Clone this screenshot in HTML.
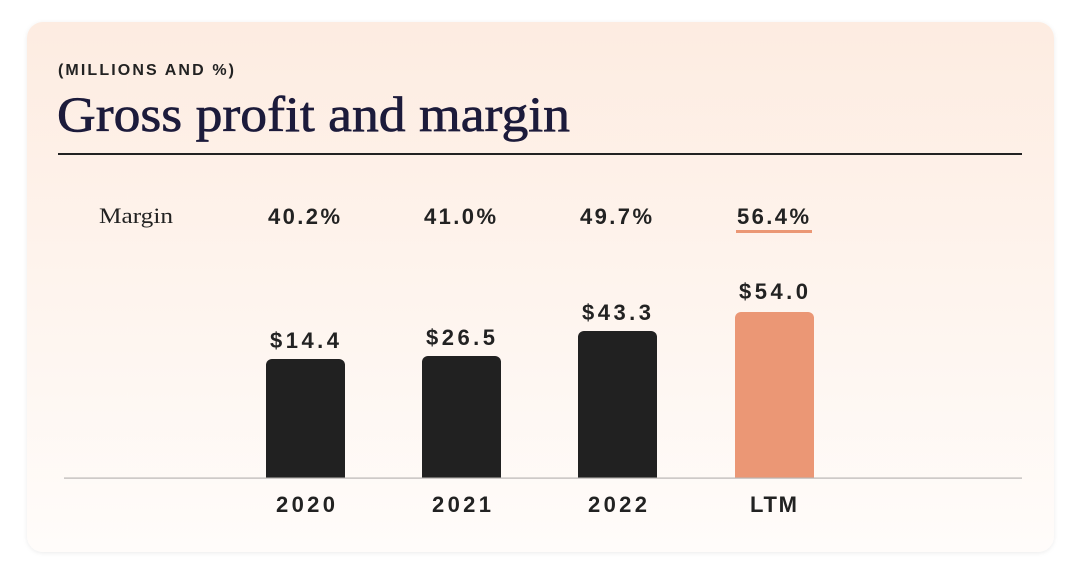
<!DOCTYPE html>
<html><head><meta charset="utf-8"><style>
html,body{margin:0;padding:0;background:#fff;width:1080px;height:574px;overflow:hidden}
</style></head><body>
<svg width="1080" height="574" xmlns="http://www.w3.org/2000/svg">
<defs>
<linearGradient id="g" x1="0" y1="0" x2="0" y2="1">
<stop offset="0" stop-color="#fdece1"/>
<stop offset="1" stop-color="#fffcfa"/>
</linearGradient>
<filter id="s" x="-5%" y="-5%" width="110%" height="110%"><feDropShadow dx="0" dy="1" stdDeviation="2" flood-color="#000" flood-opacity="0.08"/></filter>
</defs>
<rect x="27" y="22" width="1027" height="530" rx="16" fill="url(#g)" filter="url(#s)"/>
<text x="58" y="75" font-family="Liberation Sans, sans-serif" font-weight="bold" font-size="16" textLength="176" lengthAdjust="spacing" fill="#222">(MILLIONS AND %)</text>
<text x="57" y="131" font-family="Liberation Serif, serif" font-size="50" textLength="513" lengthAdjust="spacingAndGlyphs" fill="#1c1b3b" stroke="#1c1b3b" stroke-width="0.7">Gross profit and margin</text>
<rect x="58" y="153" width="964" height="2" fill="#222"/>
<text x="99" y="223" font-family="Liberation Serif, serif" font-size="22" textLength="74" lengthAdjust="spacingAndGlyphs" fill="#222">Margin</text>
<g font-family="Liberation Sans, sans-serif" font-weight="bold" font-size="22" fill="#222" lengthAdjust="spacing">
<text x="268" y="224" textLength="72">40.2%</text>
<text x="424" y="224" textLength="72">41.0%</text>
<text x="580" y="224" textLength="72">49.7%</text>
<text x="737" y="224" textLength="72">56.4%</text>
<text x="270" y="348" textLength="69">$14.4</text>
<text x="426" y="345" textLength="69">$26.5</text>
<text x="582" y="320" textLength="69">$43.3</text>
<text x="739" y="299" textLength="69">$54.0</text>
<text x="276" y="512" textLength="59">2020</text>
<text x="432" y="512" textLength="59">2021</text>
<text x="588" y="512" textLength="59">2022</text>
<text x="750" y="512" textLength="47">LTM</text>
</g>
<rect x="736" y="230" width="76" height="3" fill="#eb9775"/>
<rect x="266" y="359" width="79" height="125" rx="6" fill="#212121"/>
<rect x="422" y="356" width="79" height="128" rx="6" fill="#212121"/>
<rect x="578" y="331" width="79" height="153" rx="6" fill="#212121"/>
<rect x="735" y="312" width="79" height="172" rx="6" fill="#eb9775"/>
<rect x="60" y="478" width="962" height="6" fill="#fefaf7"/>
<rect x="64" y="477.5" width="958" height="1.2" fill="#b9b6b4"/>
</svg>
</body></html>
